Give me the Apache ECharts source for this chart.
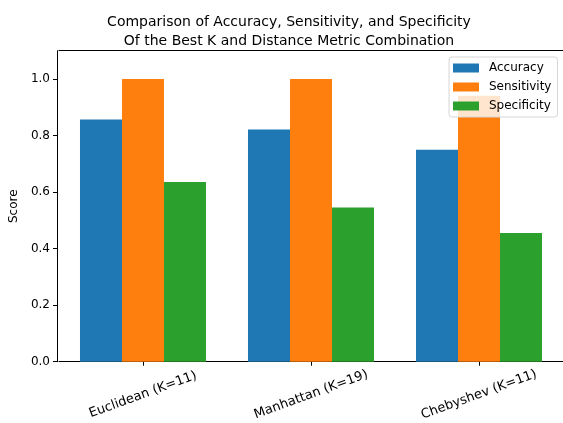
<!DOCTYPE html>
<html>
<head>
<meta charset="utf-8">
<script src="https://cdn.jsdelivr.net/npm/echarts@6/dist/echarts.min.js"></script>
<style>html,body{margin:0;padding:0;background:#fff}#c{width:563px;height:423px}</style>
</head>
<body>
<div id="c"></div>
<script>
var categories = ['Euclidean (K=11)', 'Manhattan (K=19)', 'Chebyshev (K=11)'];
var accuracy = [0.857, 0.821, 0.750];
var sensitivity = [1.0, 1.0, 0.941];
var specificity = [0.636, 0.545, 0.455];
var yTicks = [0.0, 0.2, 0.4, 0.6, 0.8, 1.0];

var FONT = 'DejaVu Sans';
var chart = echarts.init(document.getElementById('c'), null, {renderer: 'canvas'});
chart.setOption({
  animation: false,
  backgroundColor: '#fff',
  textStyle: {fontFamily: FONT},
  title: {
    text: 'Comparison of Accuracy, Sensitivity, and Specificity\nOf the Best K and Distance Metric Combination',
    left: 284, top: 8, textAlign: 'center',
    textStyle: {fontFamily: FONT, fontSize: 14, fontWeight: 'normal', color: '#000', lineHeight: 19}
  },
  legend: {
    orient: 'vertical', left: 449, top: 57,
    padding: [4, 6, 4, 4],
    itemWidth: 26, itemHeight: 9, itemGap: 5,
    icon: 'rect',
    backgroundColor: 'rgba(255,255,255,0.8)',
    borderColor: '#d6d6d6', borderWidth: 1, borderRadius: 3,
    textStyle: {fontFamily: FONT, fontSize: 12, color: '#000', lineHeight: 14, padding: [0, 0, 0, 5]},
    data: ['Accuracy', 'Sensitivity', 'Specificity']
  },
  grid: {left: 58, top: 50.7, width: 507, height: 311, containLabel: false},
  xAxis: [{
    type: 'category', data: categories,
    axisLine: {show: true, lineStyle: {color: '#000', width: 1}},
    axisTick: {show: true, alignWithLabel: true, length: 4, lineStyle: {color: '#000'}},
    axisLabel: {rotate: 20, interval: 0, margin: 33, align: 'center', verticalAlign: 'middle',
      fontFamily: FONT, fontSize: 13, color: '#000'},
    splitLine: {show: false}
  }, {
    type: 'category', data: categories, position: 'top',
    axisLine: {show: true, lineStyle: {color: '#000', width: 1}},
    axisTick: {show: false}, axisLabel: {show: false}, splitLine: {show: false}
  }],
  yAxis: {
    type: 'value', min: 0, max: 1.1, interval: 0.2, offset: 2,
    name: 'Score', nameLocation: 'middle', nameGap: 33,
    nameTextStyle: {fontFamily: FONT, fontSize: 12, color: '#000'},
    axisLine: {show: true, lineStyle: {color: '#000', width: 1}},
    axisTick: {show: true, length: 4, lineStyle: {color: '#000'}, customValues: yTicks},
    axisLabel: {customValues: yTicks, margin: 7, fontFamily: FONT, fontSize: 12, color: '#000',
      formatter: function (v) { return v.toFixed(1); }},
    splitLine: {show: false}
  },
  series: [
    {name: 'Accuracy', type: 'bar', data: accuracy, itemStyle: {color: '#1f77b4'}, barGap: '0%', barCategoryGap: '25%'},
    {name: 'Sensitivity', type: 'bar', data: sensitivity, itemStyle: {color: '#ff7f0e'}, barGap: '0%', barCategoryGap: '25%'},
    {name: 'Specificity', type: 'bar', data: specificity, itemStyle: {color: '#2ca02c'}, barGap: '0%', barCategoryGap: '25%'}
  ]
});
</script>
</body>
</html>
